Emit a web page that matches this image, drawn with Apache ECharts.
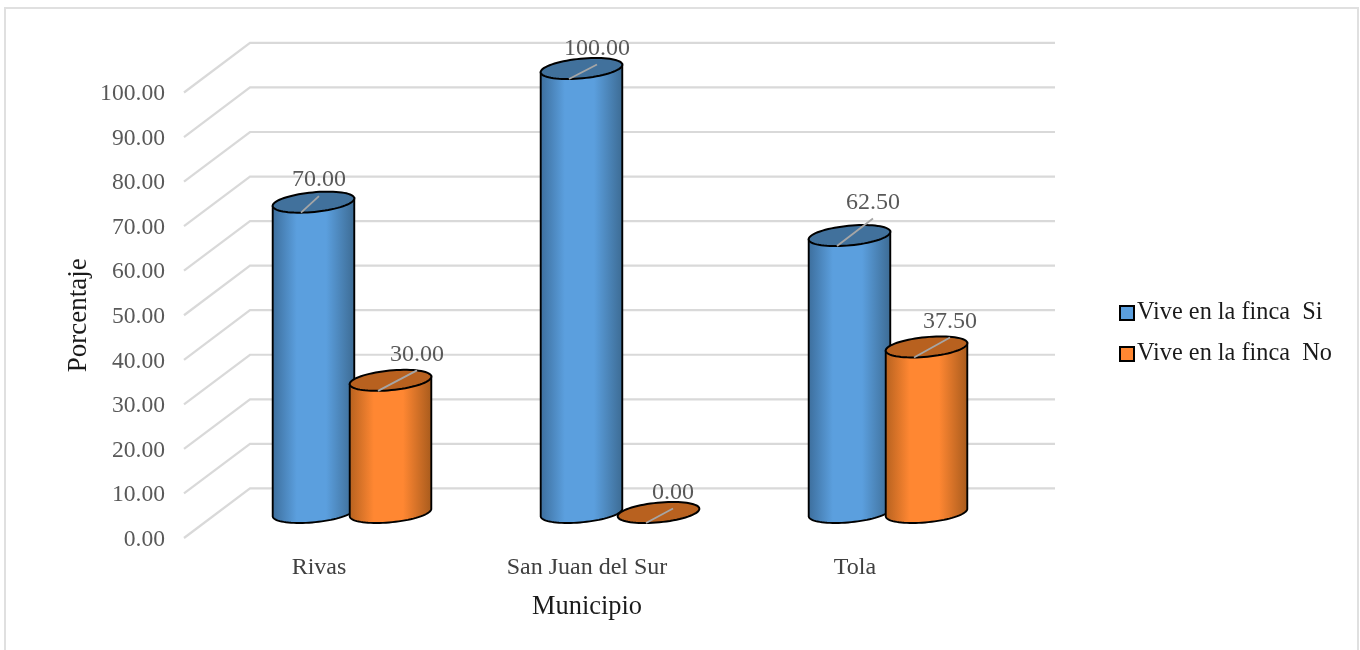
<!DOCTYPE html>
<html>
<head>
<meta charset="utf-8">
<style>html,body{margin:0;padding:0;background:#fff}#chart{width:1360px;height:650px}</style>
<script src="https://cdn.jsdelivr.net/npm/echarts@6/dist/echarts.min.js"></script>
</head>
<body>
<div id="chart"></div>
<script>
// Share of producers living on the farm, by municipality
const municipios = ['Rivas', 'San Juan del Sur', 'Tola'];
const viveSi = [70, 100, 62.5];
const viveNo = [30, 0, 37.5];
const ejeTicks = [0, 10, 20, 30, 40, 50, 60, 70, 80, 90, 100];

const SERIF = '"Liberation Serif", "Times New Roman", serif';

// Pseudo-3D projection: offset from the front plane to the back wall and to the bar plane
const WALL = { dx: 65, dy: -49.6 };
const BARS = { dx: 33, dy: -25.5, topDy: -24 };
const RX = 41, RY = 9.8, TILT = 5.5 * Math.PI / 180;
const SLOT = 0.1437; // distance of a bar from the category centre, as a share of the band

// Value label placement relative to the centre of each cylinder's top face
const calloutSi = [[5.5, -23], [15.5, -21], [23.5, -34]];
const calloutNo = [[26.5, -27], [14.5, -21], [23.5, -26.5]];

function ellipsePoint(cx, cy, t) {
  const c = Math.cos(t), s = Math.sin(t);
  return [
    cx + RX * c * Math.cos(TILT) + RY * s * Math.sin(TILT),
    cy - RX * c * Math.sin(TILT) + RY * s * Math.cos(TILT)
  ];
}

function ellipseOutline(cx, cy) {
  const pts = [];
  for (let i = 0; i < 72; i++) pts.push(ellipsePoint(cx, cy, i / 72 * Math.PI * 2));
  return pts;
}

function sideGradient(edgeL, mid, edgeR) {
  return {
    type: 'linear', x: 0, y: 0, x2: 1, y2: 0,
    colorStops: [
      { offset: 0, color: edgeL },
      { offset: 0.3, color: mid },
      { offset: 0.65, color: mid },
      { offset: 1, color: edgeR }
    ]
  };
}

function cylinderRenderer(side, palette, callouts) {
  return function (params, api) {
    const i = api.value(0);
    const v = api.value(1);
    const band = api.size([1, 0])[0];
    const base = api.coord([i, 0]);
    const top = api.coord([i, v]);
    const cx = base[0] + BARS.dx + side * SLOT * band;
    const by = base[1] + BARS.dy;
    const ty = v > 0 ? top[1] + BARS.topDy : by;

    const children = [];
    if (v > 0) {
      // Side wall: down the left tangent, along the front of the base, up the right tangent
      const tl = Math.atan2(-RY * Math.sin(TILT), RX * Math.cos(TILT));
      const leftT = Math.PI + tl, rightT = tl;
      const wall = [];
      const leftTop = ellipsePoint(cx, ty, leftT);
      const rightTop = ellipsePoint(cx, ty, rightT);
      wall.push(leftTop);
      for (let k = 0; k <= 40; k++) {
        wall.push(ellipsePoint(cx, by, leftT + (rightT - leftT) * k / 40));
      }
      wall.push(rightTop);
      children.push({
        type: 'polygon',
        shape: { points: wall },
        style: { fill: sideGradient(palette.edgeL, palette.mid, palette.edgeR), stroke: '#000', lineWidth: 1.9 }
      });
    }
    children.push({
      type: 'polygon',
      shape: { points: ellipseOutline(cx, ty) },
      style: { fill: palette.cap, stroke: '#000', lineWidth: 2 }
    });

    // Leader from the rim of the top face up to the value label
    const off = callouts[i];
    const lx = cx + off[0], ly = ty + off[1];
    children.push({
      type: 'line',
      shape: { x1: cx - 12.5, y1: ty + 10.5, x2: lx, y2: ly + 17 },
      style: { stroke: '#a6a6a6', lineWidth: 1.8 }
    });
    children.push({
      type: 'text',
      style: {
        x: lx, y: ly + 1,
        text: v.toFixed(2),
        fill: '#595959',
        font: '24px ' + SERIF,
        align: 'center',
        verticalAlign: 'middle'
      }
    });
    return { type: 'group', children: children };
  };
}

// Gridlines: a diagonal across the side wall, then a horizontal along the back wall
function wallRenderer(params, api) {
  const v = api.value(0);
  const p = api.coord([0, v]);
  const band = api.size([1, 0])[0];
  const x0 = p[0] - band / 2 - 1;
  const y0 = p[1];
  const x1 = x0 + WALL.dx + 1, y1 = y0 + WALL.dy;
  return {
    type: 'polyline',
    shape: { points: [[x0, y0], [x1, y1], [x1 + band * municipios.length + 1, y1]] },
    style: { stroke: '#d9d9d9', lineWidth: 2.2, fill: null }
  };
}

const chart = echarts.init(document.getElementById('chart'), null, { renderer: 'canvas' });
chart.setOption({
  animation: false,
  backgroundColor: '#fff',
  textStyle: { fontFamily: SERIF },
  graphic: [{
    type: 'rect', silent: true, z: -1,
    shape: { x: 5, y: 8, width: 1353, height: 660 },
    style: { fill: '#fff', stroke: '#e0e0e0', lineWidth: 2 }
  }],
  grid: { left: 185, top: 92.5, width: 804, height: 445.5 },
  xAxis: {
    type: 'category',
    data: municipios,
    axisLine: { show: false },
    axisTick: { show: false },
    axisLabel: { color: '#404040', fontSize: 24, fontFamily: SERIF, margin: 18 },
    name: 'Municipio',
    nameLocation: 'middle',
    nameGap: 56,
    nameTextStyle: { color: '#1a1a1a', fontSize: 26.4, fontFamily: SERIF }
  },
  yAxis: {
    type: 'value',
    min: 0, max: 100, interval: 10,
    axisLine: { show: false },
    axisTick: { show: false },
    splitLine: { show: false },
    axisLabel: {
      margin: 20,
      formatter: v => '{t|' + v.toFixed(2) + '}',
      rich: { t: { color: '#595959', fontSize: 23.6, fontFamily: SERIF, padding: [3, 0, 0, 0] } }
    },
    name: 'Porcentaje',
    nameLocation: 'middle',
    nameGap: 93,
    nameMoveOverlap: false,
    nameRotate: 90,
    nameTextStyle: { color: '#1a1a1a', fontSize: 27, fontFamily: SERIF }
  },
  legend: {
    left: 1114, top: 296,
    orient: 'vertical',
    itemWidth: 14, itemHeight: 14,
    itemGap: 17,
    icon: 'rect',
    textStyle: { color: '#1a1a1a', fontSize: 24.3, fontFamily: SERIF, padding: [0, 0, 0, -2] },
    data: ['Vive en la finca  Si', 'Vive en la finca  No']
  },
  series: [
    {
      type: 'custom',
      name: 'wall',
      silent: true,
      data: ejeTicks.map(t => [t]),
      encode: { y: 0 },
      renderItem: wallRenderer,
      z: 1
    },
    {
      type: 'custom',
      name: 'Vive en la finca  Si',
      itemStyle: { color: '#5b9fde', borderColor: '#000', borderWidth: 2 },
      data: viveSi.map((v, i) => [i, v]),
      encode: { x: 0, y: 1 },
      renderItem: cylinderRenderer(-1, { edgeL: '#3c6d9b', mid: '#5b9fde', edgeR: '#3c6a92', cap: '#41719c' }, calloutSi),
      z: 2
    },
    {
      type: 'custom',
      name: 'Vive en la finca  No',
      itemStyle: { color: '#ff8732', borderColor: '#000', borderWidth: 2 },
      data: viveNo.map((v, i) => [i, v]),
      encode: { x: 0, y: 1 },
      renderItem: cylinderRenderer(1, { edgeL: '#b5611f', mid: '#ff8732', edgeR: '#a65a1c', cap: '#b8611f' }, calloutNo),
      z: 3
    }
  ]
});
</script>
</body>
</html>
